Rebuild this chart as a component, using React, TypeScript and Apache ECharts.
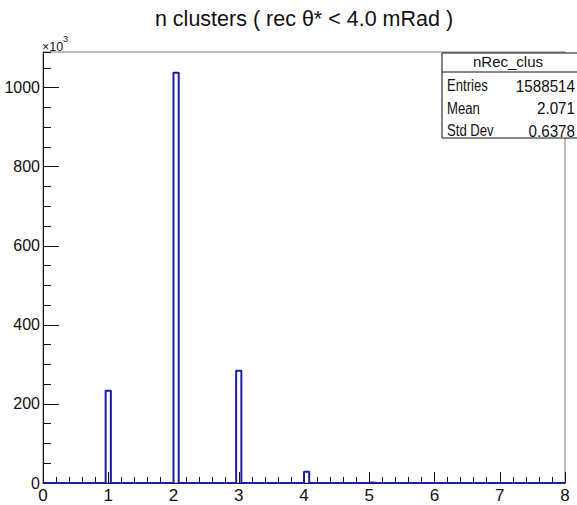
import React, { useEffect, useRef } from "react";
import * as echarts from "echarts";

const titleText = "n clusters ( rec θ* < 4.0 mRad )";
const histName = "nRec_clus";
const statLabels = ["Entries", "Mean", "Std Dev"];
const statValues = ["1588514", "2.071", "0.6378"];
const nBins = 100;
const xMin = 0;
const xMax = 8;
// filled bins (centers) and their contents, in units of 10^3
const filledBinCenters = [1, 2, 3, 4, 5];
const filledBinCounts = [233.5, 1037.5, 284, 28.5, 1.5];
const yMax = 1090;
const yMajor = 200;
const yMinor = 50;

const W = 577;
const H = 505;
const SANS = "'Liberation Sans', Arial, Helvetica, sans-serif";
const HIST_COLOR = "#1c1ca6";

function buildStepPoints(): number[][] {
  const binW = (xMax - xMin) / nBins;
  const counts = new Array(nBins).fill(0);
  filledBinCenters.forEach((c, i) => {
    const idx = Math.floor((c - xMin) / binW);
    counts[idx] = filledBinCounts[i];
  });
  const pts: number[][] = [[xMin, 0]];
  for (let i = 0; i < nBins; i++) {
    const lo = xMin + i * binW;
    const hi = lo + binW;
    pts.push([lo, counts[i]]);
    pts.push([hi, counts[i]]);
  }
  pts.push([xMax, 0]);
  return pts;
}

export default function App() {
  const ref = useRef<HTMLDivElement>(null);
  useEffect(() => {
    document.body.style.margin = "0";
    if (!ref.current) return;
    const chart = echarts.init(ref.current, undefined, { renderer: "svg" });
    const gl = 43, gr = 565, gt = 52, gb = 483;
    const boxX = 442, boxY = 53, boxW = 140, boxH = 85;
    const rowYs = [86, 108.5, 131];
    chart.setOption({
      animation: false,
      backgroundColor: "#fff",
      grid: {
        left: gl,
        top: gt,
        right: W - gr,
        bottom: H - gb,
        show: true,
        borderColor: "#7a7a7a",
        borderWidth: 1,
        containLabel: false,
      },
      xAxis: {
        type: "value",
        min: xMin,
        max: xMax,
        interval: 1,
        axisLine: { show: true, onZero: false, lineStyle: { color: "#111", width: 1 } },
        axisTick: { show: true, inside: true, length: 11, lineStyle: { color: "#111" } },
        minorTick: { show: true, splitNumber: 5, length: 6, lineStyle: { color: "#111" } },
        axisLabel: { color: "#111", fontSize: 17, fontFamily: SANS, margin: 4 },
        splitLine: { show: false },
        minorSplitLine: { show: false },
      },
      yAxis: [
        {
          type: "value",
          position: "left",
          min: 0,
          max: yMax,
          interval: yMajor,
          axisLine: { show: true, lineStyle: { color: "#111", width: 1 } },
          axisTick: { show: true, inside: true, length: 16, lineStyle: { color: "#111" } },
          axisLabel: {
            color: "#111",
            fontSize: 16,
            fontFamily: SANS,
            margin: 3,
            showMaxLabel: false,
            formatter: (v: number) => (v % yMajor === 0 ? String(v) : ""),
          },
          splitLine: { show: false },
        },
        {
          type: "value",
          position: "left",
          min: 0,
          max: yMax,
          interval: yMinor,
          axisLine: { show: false },
          axisTick: { show: true, inside: true, length: 8, lineStyle: { color: "#111" } },
          axisLabel: { show: false },
          splitLine: { show: false },
        },
      ],
      series: [
        {
          type: "line",
          yAxisIndex: 0,
          data: buildStepPoints(),
          showSymbol: false,
          symbol: "none",
          clip: false,
          lineStyle: { color: HIST_COLOR, width: 2 },
          z: 1,
        },
      ],
      graphic: [
        {
          type: "text",
          x: 304,
          y: 18.5,
          style: {
            text: titleText,
            font: `21.5px ${SANS}`,
            fill: "#111",
            textAlign: "center",
            textVerticalAlign: "middle",
          },
        },
        {
          type: "text",
          x: 42,
          y: 46.5,
          style: {
            text: "×10",
            font: `12.5px ${SANS}`,
            fill: "#111",
            textAlign: "left",
            textVerticalAlign: "middle",
          },
        },
        {
          type: "text",
          x: 63,
          y: 38.5,
          style: {
            text: "3",
            font: `9px ${SANS}`,
            fill: "#111",
            textAlign: "left",
            textVerticalAlign: "middle",
          },
        },
        {
          type: "rect",
          z: 10,
          shape: { x: boxX, y: boxY, width: boxW, height: boxH },
          style: { fill: "#fff", stroke: "#111", lineWidth: 1 },
        },
        {
          type: "line",
          z: 11,
          shape: { x1: boxX, y1: 72, x2: boxX + boxW, y2: 72 },
          style: { stroke: "#111", lineWidth: 1 },
        },
        {
          type: "text",
          z: 12,
          x: 508,
          y: 61.5,
          style: {
            text: histName,
            font: `15px ${SANS}`,
            fill: "#111",
            textAlign: "center",
            textVerticalAlign: "middle",
          },
        },
        ...statLabels.map((l, i) => ({
          type: "text",
          z: 12,
          x: 447,
          y: rowYs[i],
          scaleX: 0.82,
          style: {
            text: l,
            font: `16px ${SANS}`,
            fill: "#111",
            textAlign: "left",
            textVerticalAlign: "middle",
          },
        })),
        ...statValues.map((v, i) => ({
          type: "text",
          z: 12,
          x: 575,
          y: rowYs[i],
          scaleX: 0.95,
          style: {
            text: v,
            font: `16px ${SANS}`,
            fill: "#111",
            textAlign: "right",
            textVerticalAlign: "middle",
          },
        })),
      ],
    });
    return () => chart.dispose();
  }, []);
  return <div ref={ref} style={{ width: W, height: H }} />;
}
